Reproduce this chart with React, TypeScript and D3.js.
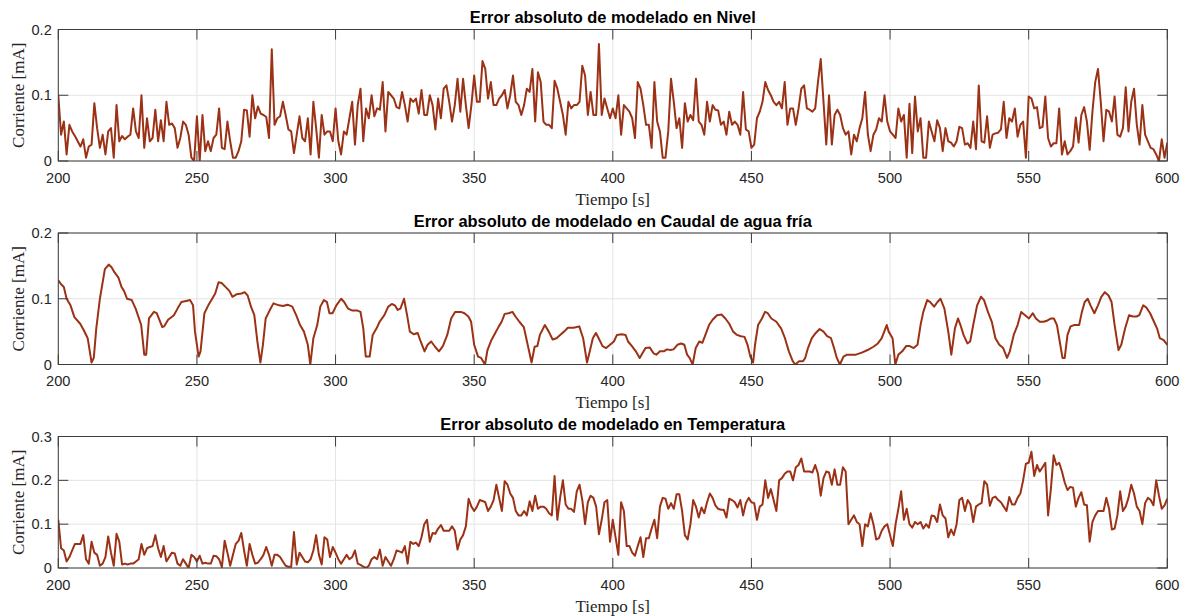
import React from "react";
import * as d3 from "d3";

// Absolute modelling error, sampled every second from 200 s to 600 s
const NIVEL_VALUES = [
  0.100,0.040,0.060,0.010,0.055,0.045,0.038,0.030,0.022,0.033,
  0.005,0.022,0.025,0.088,0.050,0.020,0.040,0.010,0.045,0.050,
  0.005,0.085,0.030,0.038,0.033,0.037,0.040,0.080,0.045,0.035,
  0.100,0.020,0.065,0.030,0.035,0.078,0.030,0.062,0.030,0.090,
  0.055,0.057,0.050,0.020,0.035,0.060,0.055,0.040,0.005,0.000,
  0.068,0.000,0.070,0.015,0.030,0.015,0.035,0.040,0.080,0.020,
  0.018,0.060,0.030,0.005,0.005,0.015,0.030,0.078,0.077,0.037,
  0.100,0.065,0.083,0.072,0.070,0.067,0.035,0.170,0.055,0.065,
  0.068,0.090,0.070,0.048,0.045,0.012,0.040,0.068,0.035,0.030,
  0.065,0.010,0.090,0.050,0.005,0.070,0.040,0.045,0.045,0.030,
  0.080,0.030,0.010,0.045,0.040,0.065,0.090,0.025,0.085,0.110,
  0.030,0.080,0.065,0.100,0.068,0.080,0.078,0.120,0.045,0.105,
  0.100,0.095,0.082,0.080,0.105,0.085,0.060,0.095,0.090,0.095,
  0.072,0.108,0.070,0.070,0.100,0.085,0.048,0.095,0.065,0.110,
  0.115,0.090,0.060,0.085,0.125,0.075,0.125,0.085,0.050,0.085,
  0.130,0.090,0.090,0.152,0.140,0.095,0.120,0.085,0.085,0.095,
  0.100,0.108,0.080,0.100,0.130,0.090,0.085,0.070,0.085,0.110,
  0.105,0.140,0.060,0.135,0.120,0.060,0.055,0.055,0.050,0.122,
  0.110,0.090,0.070,0.040,0.090,0.080,0.085,0.085,0.090,0.145,
  0.130,0.070,0.105,0.070,0.070,0.178,0.070,0.095,0.080,0.065,
  0.080,0.065,0.100,0.040,0.085,0.080,0.075,0.065,0.035,0.120,
  0.110,0.085,0.055,0.055,0.020,0.120,0.060,0.045,0.005,0.005,
  0.045,0.125,0.090,0.050,0.065,0.020,0.088,0.060,0.070,0.062,
  0.125,0.060,0.055,0.040,0.090,0.060,0.085,0.078,0.077,0.055,
  0.060,0.040,0.075,0.055,0.060,0.055,0.040,0.105,0.048,0.045,
  0.020,0.025,0.065,0.075,0.090,0.120,0.108,0.100,0.090,0.085,
  0.090,0.080,0.120,0.055,0.080,0.080,0.055,0.080,0.110,0.115,
  0.080,0.078,0.075,0.080,0.120,0.155,0.090,0.025,0.100,0.025,
  0.070,0.078,0.070,0.050,0.040,0.045,0.010,0.040,0.030,0.050,
  0.065,0.105,0.040,0.015,0.040,0.048,0.065,0.060,0.100,0.060,
  0.045,0.040,0.035,0.080,0.060,0.070,0.005,0.087,0.012,0.098,
  0.045,0.065,0.005,0.005,0.060,0.045,0.030,0.062,0.050,0.015,
  0.050,0.030,0.028,0.022,0.030,0.052,0.050,0.025,0.027,0.020,
  0.060,0.018,0.115,0.030,0.028,0.068,0.020,0.040,0.042,0.043,
  0.048,0.090,0.035,0.065,0.060,0.080,0.037,0.055,0.060,0.005,
  0.098,0.095,0.080,0.082,0.050,0.052,0.098,0.035,0.022,0.027,
  0.027,0.080,0.010,0.030,0.010,0.015,0.022,0.066,0.028,0.070,
  0.082,0.060,0.017,0.075,0.120,0.140,0.090,0.030,0.078,0.075,
  0.060,0.098,0.040,0.037,0.050,0.112,0.045,0.090,0.110,0.055,
  0.025,0.085,0.040,0.030,0.020,0.018,0.010,0.000,0.033,0.005,
  0.028,
];

const TEMPERATURA_VALUES = [
  0.110,0.045,0.040,0.015,0.025,0.040,0.055,0.055,0.055,0.075,
  0.020,0.010,0.060,0.035,0.030,0.005,0.010,0.025,0.072,0.035,
  0.005,0.078,0.060,0.008,0.010,0.008,0.010,0.010,0.015,0.020,
  0.055,0.030,0.045,0.048,0.050,0.075,0.045,0.025,0.050,0.015,
  0.025,0.035,0.033,0.010,0.005,0.020,0.010,0.000,0.030,0.025,
  0.015,0.028,0.010,0.012,0.010,0.010,0.028,0.027,0.020,0.002,
  0.062,0.035,0.005,0.030,0.055,0.062,0.080,0.040,0.005,0.055,
  0.030,0.010,0.012,0.020,0.030,0.048,0.030,0.005,0.030,0.030,
  0.025,0.015,0.005,0.003,0.003,0.082,0.008,0.035,0.025,0.015,
  0.013,0.020,0.040,0.075,0.030,0.008,0.070,0.065,0.025,0.048,
  0.035,0.020,0.010,0.020,0.030,0.020,0.025,0.040,0.010,0.007,
  0.003,0.000,0.005,0.020,0.025,0.020,0.042,0.005,0.025,0.015,
  0.005,0.020,0.040,0.038,0.035,0.050,0.010,0.060,0.055,0.058,
  0.050,0.070,0.100,0.110,0.060,0.080,0.078,0.090,0.098,0.085,
  0.085,0.085,0.095,0.085,0.042,0.065,0.075,0.095,0.158,0.140,
  0.130,0.140,0.155,0.153,0.150,0.130,0.140,0.155,0.190,0.160,
  0.130,0.198,0.190,0.170,0.160,0.130,0.120,0.120,0.130,0.120,
  0.152,0.130,0.165,0.135,0.140,0.140,0.135,0.125,0.120,0.210,
  0.110,0.160,0.200,0.145,0.135,0.135,0.128,0.175,0.190,0.155,
  0.100,0.150,0.165,0.160,0.140,0.077,0.110,0.150,0.155,0.060,
  0.110,0.070,0.030,0.150,0.130,0.050,0.050,0.035,0.028,0.050,
  0.070,0.025,0.068,0.068,0.090,0.110,0.068,0.140,0.160,0.158,
  0.135,0.148,0.135,0.168,0.168,0.130,0.075,0.065,0.100,0.155,
  0.140,0.115,0.138,0.125,0.150,0.170,0.160,0.143,0.135,0.133,
  0.133,0.115,0.158,0.155,0.150,0.138,0.155,0.120,0.148,0.160,
  0.150,0.148,0.110,0.140,0.145,0.200,0.160,0.180,0.155,0.130,
  0.200,0.205,0.215,0.220,0.220,0.200,0.230,0.235,0.250,0.220,
  0.220,0.220,0.218,0.235,0.215,0.165,0.205,0.220,0.218,0.190,
  0.225,0.190,0.190,0.230,0.220,0.100,0.110,0.120,0.105,0.100,
  0.050,0.100,0.095,0.125,0.100,0.065,0.068,0.085,0.095,0.100,
  0.075,0.050,0.100,0.135,0.175,0.110,0.135,0.100,0.092,0.105,
  0.100,0.105,0.090,0.100,0.092,0.120,0.118,0.105,0.145,0.120,
  0.113,0.070,0.088,0.075,0.100,0.155,0.160,0.130,0.155,0.145,
  0.105,0.140,0.145,0.148,0.198,0.190,0.142,0.160,0.163,0.155,
  0.150,0.140,0.130,0.162,0.145,0.145,0.160,0.170,0.200,0.238,
  0.240,0.265,0.210,0.235,0.220,0.230,0.240,0.120,0.180,0.257,
  0.235,0.240,0.220,0.195,0.178,0.185,0.183,0.140,0.160,0.173,
  0.145,0.143,0.060,0.105,0.120,0.130,0.130,0.130,0.160,0.135,
  0.088,0.090,0.120,0.175,0.130,0.140,0.160,0.190,0.170,0.140,
  0.130,0.100,0.148,0.160,0.155,0.143,0.200,0.165,0.135,0.143,
  0.158,
];

// The flow error is smooth, so it is kept as (time, value) vertices
const CAUDAL_TIMES = [
  200,201,202,203,204.4,205.8,207.9,209.2,210.6,212,212.8,213.7,215,216.8,218.2,219.2,220.3,221.7,222.8,223.7,
  224.8,226.5,227.9,229.9,231,231.7,232.7,234.5,235.5,237.5,238.2,239.6,241.7,243,244.4,246.5,247.5,248.6,249.3,250.6,
  251.3,252.7,254.1,255.5,256.6,257.8,258.9,260.3,261.7,262.8,264.4,266.1,267.2,268.3,269.5,270.7,271.8,272.9,273.8,274.8,
  276.2,277.6,279.6,281,282.7,284.4,285.8,287.2,288.6,290,290.9,292,293.4,294.5,295.8,296.9,297.8,298.9,300.3,302,
  303.1,304.5,306.1,307.9,309,310,310.9,312.3,313.4,314.8,315.9,317.6,319,320.3,321.4,322.4,323.4,324.7,325.8,326.8,
  328.2,329.6,330.7,332.1,333.2,334.5,335.9,337.3,338.7,340.3,341.7,343.1,345.2,346.5,347.9,348.9,350,351.4,352.5,353.9,
  354.8,356.2,357.6,358.9,359.9,361,362.4,363.8,364.9,366.3,367.9,369.3,370.7,371.8,372.8,373.7,375.5,376.9,378.3,379.7,
  381,382.4,383.8,385.9,387.9,389.3,390.7,391.7,392.8,393.9,394.9,396.3,397.6,399,400.4,401.5,403.2,404.6,405.5,406.9,
  408.3,409.7,410.8,411.8,413.3,414.7,415.7,417,418.4,419.5,420.8,421.9,423.3,424.7,425.8,426.8,427.7,428.8,429.9,431.2,
  432.3,433.4,434.7,436,437.6,439.2,440.6,442,443.4,444.8,446.2,447.5,448.6,449.6,450.6,451.3,452.4,453.8,454.9,455.9,
  457.2,459,460.7,462.1,463.5,464.9,465.8,467.2,468.6,469.4,470.4,471.8,473.2,474.6,476,477.3,478.7,479.8,480.8,481.9,
  483.2,484.5,486.3,487.7,489.8,491.9,494,495.6,497,498.8,499.5,500.9,501.9,503,504.4,505.8,507.1,508.5,509.9,511,
  512,513.4,514.5,515.9,517.1,518.2,519.6,521,522.1,523.4,524.5,525.4,526.5,527.9,528.9,530,531.4,532.8,533.9,535.3,
  536.7,538,539.4,540.8,542.2,543.2,544.6,546,547.3,548.7,550.1,551.5,552.6,554,555.4,556.8,558.1,559.1,560.2,561.2,
  562.2,563,564,565.1,566.5,568.2,569.2,570.2,571.3,572.3,573.7,575,576.2,577.5,578.8,579.9,581,582.4,583.4,584.8,
  586.2,587.6,588.9,589.9,591.3,592.4,593.8,595.2,596.3,597.3,598.7,600,
];

const CAUDAL_VALUES = [
  0.128,0.122,0.118,0.100,0.090,0.072,0.062,0.052,0.040,0.003,0.010,0.055,0.100,0.145,0.152,0.148,0.140,0.132,0.118,0.112,
  0.100,0.098,0.085,0.060,0.015,0.015,0.070,0.080,0.078,0.057,0.058,0.068,0.075,0.085,0.095,0.097,0.098,0.090,0.050,0.012,
  0.020,0.078,0.090,0.100,0.108,0.125,0.124,0.118,0.112,0.103,0.107,0.108,0.110,0.105,0.088,0.075,0.035,0.003,0.030,0.070,
  0.082,0.093,0.090,0.089,0.091,0.088,0.075,0.060,0.050,0.030,0.000,0.040,0.060,0.088,0.098,0.095,0.078,0.078,0.090,0.100,
  0.095,0.085,0.082,0.082,0.080,0.055,0.012,0.012,0.045,0.055,0.065,0.075,0.088,0.092,0.090,0.083,0.085,0.100,0.075,0.050,
  0.046,0.048,0.035,0.020,0.030,0.035,0.027,0.020,0.028,0.045,0.070,0.080,0.080,0.078,0.073,0.065,0.030,0.012,0.010,0.000,
  0.022,0.037,0.048,0.058,0.065,0.077,0.078,0.080,0.073,0.065,0.057,0.030,0.003,0.027,0.028,0.045,0.060,0.050,0.038,0.040,
  0.045,0.050,0.056,0.056,0.058,0.040,0.003,0.020,0.040,0.048,0.040,0.028,0.025,0.030,0.035,0.045,0.046,0.045,0.035,0.028,
  0.020,0.010,0.018,0.025,0.026,0.017,0.015,0.020,0.020,0.023,0.022,0.023,0.030,0.032,0.030,0.015,0.010,0.000,0.025,0.035,
  0.033,0.045,0.060,0.068,0.075,0.076,0.070,0.062,0.050,0.045,0.043,0.042,0.030,0.012,0.003,0.030,0.060,0.070,0.080,0.078,
  0.070,0.065,0.055,0.040,0.020,0.005,0.000,0.005,0.005,0.010,0.025,0.040,0.048,0.054,0.050,0.043,0.040,0.025,0.010,0.000,
  0.012,0.015,0.015,0.015,0.018,0.022,0.027,0.032,0.040,0.060,0.050,0.040,0.000,0.015,0.020,0.028,0.028,0.025,0.030,0.060,
  0.080,0.098,0.095,0.088,0.095,0.100,0.085,0.050,0.015,0.055,0.070,0.060,0.045,0.032,0.035,0.060,0.090,0.103,0.098,0.080,
  0.065,0.040,0.030,0.025,0.010,0.020,0.045,0.060,0.080,0.075,0.070,0.078,0.070,0.065,0.065,0.067,0.070,0.070,0.060,0.035,
  0.010,0.010,0.045,0.058,0.060,0.060,0.080,0.095,0.100,0.090,0.078,0.090,0.103,0.110,0.105,0.095,0.060,0.022,0.030,0.055,
  0.075,0.073,0.073,0.075,0.090,0.087,0.078,0.065,0.055,0.040,0.037,0.030,
];

const X_TICKS = [200, 250, 300, 350, 400, 450, 500, 550, 600];
const Y_TICKS_02 = [0, 0.1, 0.2];
const Y_TICKS_03 = [0, 0.1, 0.2, 0.3];

const TITLES = [
  "Error absoluto de modelado en Nivel",
  "Error absoluto de modelado en Caudal de agua fría",
  "Error absoluto de modelado en Temperatura",
];
const X_LABEL = "Tiempo [s]";
const Y_LABEL = "Corriente [mA]";

const WIDTH = 1191;
const HEIGHT = 616;
const LEFT = 58.3;
const RIGHT = 1167.3;
const LINE_COLOR = "#9b3216";
const AXIS_COLOR = "#3c3c3c";
const GRID_COLOR = "#e4e4e4";
const TEXT_COLOR = "#262626";
const SANS = "'Liberation Sans', Arial, Helvetica, sans-serif";
const SERIF = "'Liberation Serif', 'Times New Roman', serif";

type Point = [number, number];

const secondSeries = (values: number[]): Point[] =>
  values.map((v, i) => [200 + i, v]);

const PANELS = [
  { top: 29.5, bottom: 161, yMax: 0.2, yTicks: Y_TICKS_02, data: secondSeries(NIVEL_VALUES) },
  {
    top: 233,
    bottom: 364.5,
    yMax: 0.2,
    yTicks: Y_TICKS_02,
    data: CAUDAL_TIMES.map((t, i) => [t, CAUDAL_VALUES[i]] as Point),
  },
  { top: 436.5, bottom: 568, yMax: 0.3, yTicks: Y_TICKS_03, data: secondSeries(TEMPERATURA_VALUES) },
];

const fmt = (v: number) => (v === 0 ? "0" : String(v));

function Panel({ index }: { index: number }) {
  const p = PANELS[index];
  const x = d3.scaleLinear().domain([200, 600]).range([LEFT, RIGHT]);
  const y = d3.scaleLinear().domain([0, p.yMax]).range([p.bottom, p.top]);
  const line = d3
    .line<Point>()
    .x((d) => x(d[0]))
    .y((d) => y(d[1]));
  const tick = 10;
  const clipId = `clip-${index}`;
  const midX = (LEFT + RIGHT) / 2;
  const midY = (p.top + p.bottom) / 2;

  return (
    <g>
      <defs>
        <clipPath id={clipId}>
          <rect x={LEFT} y={p.top} width={RIGHT - LEFT} height={p.bottom - p.top} />
        </clipPath>
      </defs>
      {/* grid */}
      {X_TICKS.map((t) => (
        <line key={`gx${t}`} x1={x(t)} x2={x(t)} y1={p.top} y2={p.bottom} stroke={GRID_COLOR} strokeWidth={1} />
      ))}
      {p.yTicks.map((t) => (
        <line key={`gy${t}`} x1={LEFT} x2={RIGHT} y1={y(t)} y2={y(t)} stroke={GRID_COLOR} strokeWidth={1} />
      ))}
      {/* data */}
      <path
        d={line(p.data) || ""}
        fill="none"
        stroke={LINE_COLOR}
        strokeWidth={2}
        strokeLinejoin="round"
        clipPath={`url(#${clipId})`}
      />
      {/* box */}
      <rect
        x={LEFT}
        y={p.top}
        width={RIGHT - LEFT}
        height={p.bottom - p.top}
        fill="none"
        stroke={AXIS_COLOR}
        strokeWidth={1}
      />
      {/* inward ticks on all four sides */}
      {X_TICKS.map((t) => (
        <g key={`tx${t}`}>
          <line x1={x(t)} x2={x(t)} y1={p.bottom} y2={p.bottom - tick} stroke={AXIS_COLOR} />
          <line x1={x(t)} x2={x(t)} y1={p.top} y2={p.top + tick} stroke={AXIS_COLOR} />
          <text
            x={x(t)}
            y={p.bottom + 21.5}
            textAnchor="middle"
            fontFamily={SANS}
            fontSize={14.6}
            fill={TEXT_COLOR}
          >
            {t}
          </text>
        </g>
      ))}
      {p.yTicks.map((t) => (
        <g key={`ty${t}`}>
          <line x1={LEFT} x2={LEFT + tick} y1={y(t)} y2={y(t)} stroke={AXIS_COLOR} />
          <line x1={RIGHT} x2={RIGHT - tick} y1={y(t)} y2={y(t)} stroke={AXIS_COLOR} />
          <text
            x={LEFT - 6.5}
            y={y(t) + 5}
            textAnchor="end"
            fontFamily={SANS}
            fontSize={14.6}
            fill={TEXT_COLOR}
          >
            {fmt(t)}
          </text>
        </g>
      ))}
      {/* labels */}
      <text
        x={midX}
        y={p.top - 6.5}
        textAnchor="middle"
        fontFamily={SANS}
        fontWeight="bold"
        fontSize={16.4}
        fill="#000"
      >
        {TITLES[index]}
      </text>
      <text
        x={midX}
        y={p.bottom + 43.5}
        textAnchor="middle"
        fontFamily={SERIF}
        fontSize={17}
        fill={TEXT_COLOR}
      >
        {X_LABEL}
      </text>
      <text
        transform={`translate(${23.5},${midY}) rotate(-90)`}
        textAnchor="middle"
        fontFamily={SERIF}
        fontSize={17}
        fill={TEXT_COLOR}
      >
        {Y_LABEL}
      </text>
    </g>
  );
}

export default function App() {
  return (
    <svg
      width={WIDTH}
      height={HEIGHT}
      style={{ position: "absolute", left: 0, top: 0, background: "#fff" }}
    >
      <rect width={WIDTH} height={HEIGHT} fill="#fff" />
      {PANELS.map((_, i) => (
        <Panel key={i} index={i} />
      ))}
    </svg>
  );
}
